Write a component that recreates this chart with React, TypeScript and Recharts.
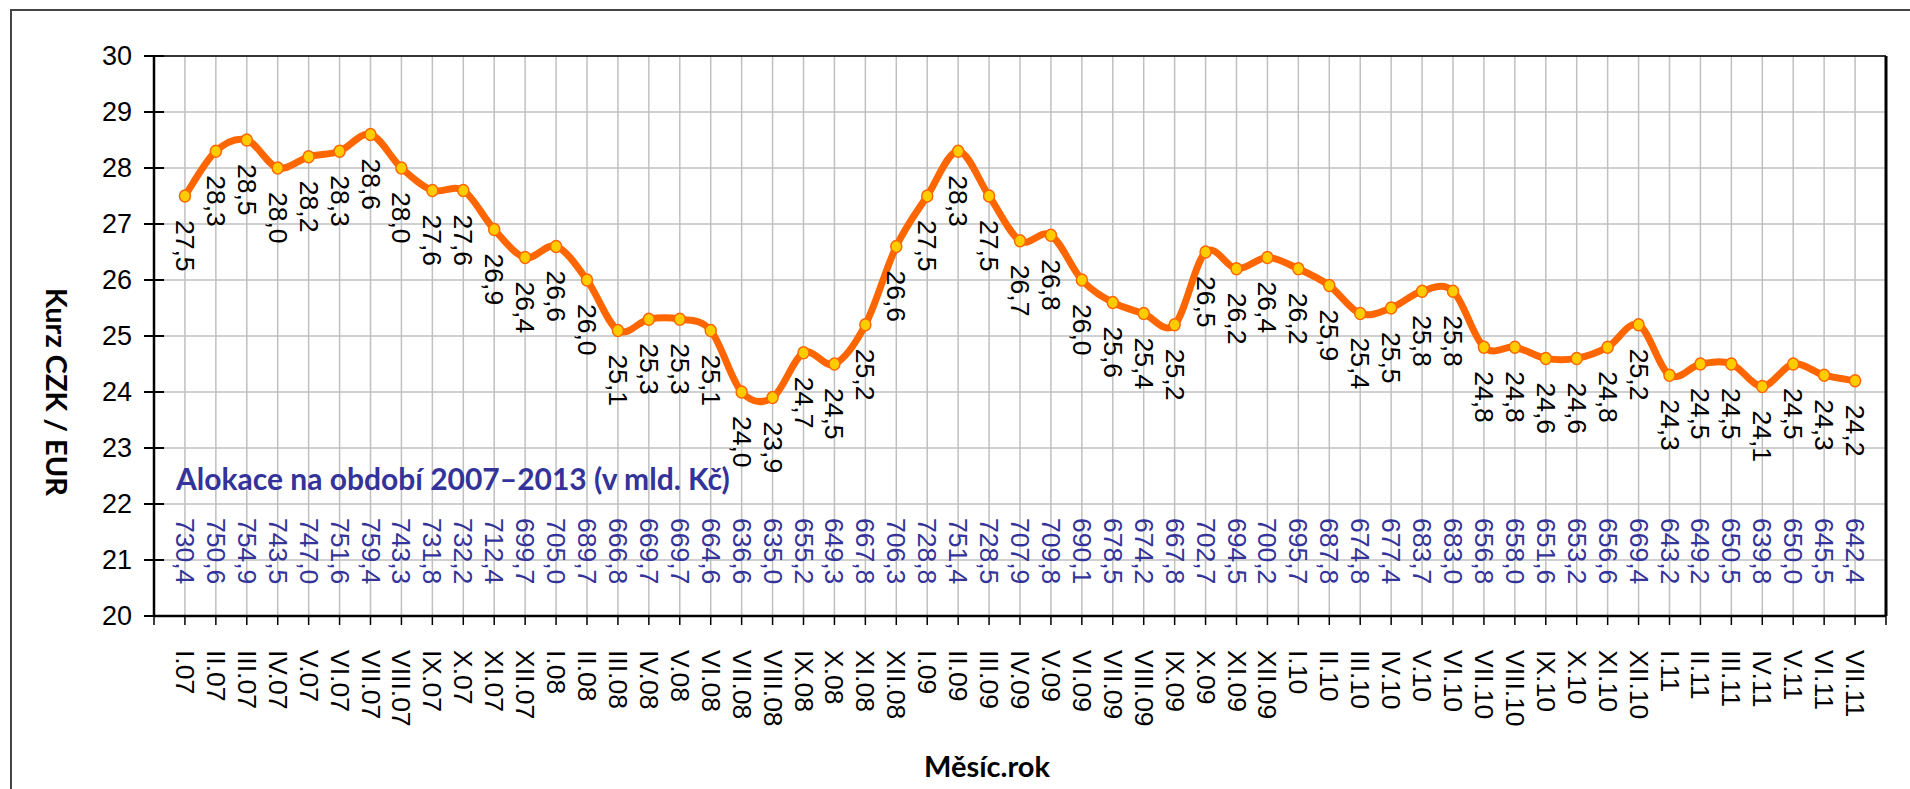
import React from 'react';
import { LineChart, Line, XAxis, YAxis, CartesianGrid, LabelList, ReferenceLine } from 'recharts';

const months = [
  'I.07', 'II.07', 'III.07', 'IV.07', 'V.07', 'VI.07', 'VII.07', 'VIII.07', 'IX.07', 'X.07', 'XI.07', 'XII.07',
  'I.08', 'II.08', 'III.08', 'IV.08', 'V.08', 'VI.08', 'VII.08', 'VIII.08', 'IX.08', 'X.08', 'XI.08', 'XII.08',
  'I.09', 'II.09', 'III.09', 'IV.09', 'V.09', 'VI.09', 'VII.09', 'VIII.09', 'IX.09', 'X.09', 'XI.09', 'XII.09',
  'I.10', 'II.10', 'III.10', 'IV.10', 'V.10', 'VI.10', 'VII.10', 'VIII.10', 'IX.10', 'X.10', 'XI.10', 'XII.10',
  'I.11', 'II.11', 'III.11', 'IV.11', 'V.11', 'VI.11', 'VII.11',
];

const rates = [
  27.5, 28.3, 28.5, 28.0, 28.2, 28.3, 28.6, 28.0, 27.6, 27.6, 26.9, 26.4,
  26.6, 26.0, 25.1, 25.3, 25.3, 25.1, 24.0, 23.9, 24.7, 24.5, 25.2, 26.6,
  27.5, 28.3, 27.5, 26.7, 26.8, 26.0, 25.6, 25.4, 25.2, 26.5, 26.2, 26.4,
  26.2, 25.9, 25.4, 25.5, 25.8, 25.8, 24.8, 24.8, 24.6, 24.6, 24.8, 25.2,
  24.3, 24.5, 24.5, 24.1, 24.5, 24.3, 24.2,
];

const allocations = [
  730.4, 750.6, 754.9, 743.5, 747.0, 751.6, 759.4, 743.3, 731.8, 732.2, 712.4, 699.7,
  705.0, 689.7, 666.8, 669.7, 669.7, 664.6, 636.6, 635.0, 655.2, 649.3, 667.8, 706.3,
  728.8, 751.4, 728.5, 707.9, 709.8, 690.1, 678.5, 674.2, 667.8, 702.7, 694.5, 700.2,
  695.7, 687.8, 674.8, 677.4, 683.7, 683.0, 656.8, 658.0, 651.6, 653.2, 656.6, 669.4,
  643.2, 649.2, 650.5, 639.8, 650.0, 645.5, 642.4,
];

const yTicks = [20, 21, 22, 23, 24, 25, 26, 27, 28, 29, 30];

const data = months.map((m, i) => ({ idx: i + 1, month: m, rate: rates[i], alloc: allocations[i] }));
const xTicks = Array.from({ length: months.length + 2 }, (_, i) => i);

const fmt = (v: number, d: number) => v.toFixed(d).replace('.', ',');

const LABEL_FONT = '"Liberation Sans", Arial, sans-serif';
const TITLE_FONT = 'Lato, "Open Sans", sans-serif';
const BLUE = '#333399';

function excelSmooth(context: any) {
  let pts: number[][] = [];
  return {
    areaStart() {},
    areaEnd() {},
    lineStart() { pts = []; },
    point(x: number, y: number) { pts.push([+x, +y]); },
    lineEnd() {
      const n = pts.length;
      if (!n) return;
      context.moveTo(pts[0][0], pts[0][1]);
      for (let i = 0; i < n - 1; i++) {
        const p0 = pts[i - 1] || pts[i];
        const p1 = pts[i];
        const p2 = pts[i + 1];
        const p3 = pts[i + 2] || pts[i + 1];
        context.bezierCurveTo(
          p1[0] + (p2[0] - p0[0]) / 6, p1[1] + (p2[1] - p0[1]) / 6,
          p2[0] - (p3[0] - p1[0]) / 6, p2[1] - (p3[1] - p1[1]) / 6,
          p2[0], p2[1]
        );
      }
    },
  };
}

const XTick = (props: any) => {
  const { x, y, payload } = props;
  const i = payload.value - 1;
  const has = i >= 0 && i < months.length;
  return (
    <g>
      <line x1={x} x2={x} y1={y} y2={y + 9} stroke="#000" strokeWidth={1.5} />
      {has && (
        <text transform={`translate(${x},${y + 34}) rotate(90)`} textAnchor="start" dominantBaseline="central"
          fontFamily={LABEL_FONT} fontSize={26.5} fill="#000">{months[i]}</text>
      )}
      {has && (
        <text transform={`translate(${x},${y - 98}) rotate(90)`} textAnchor="start" dominantBaseline="central"
          fontFamily={LABEL_FONT} fontSize={26.5} fill={BLUE}>{fmt(allocations[i], 1)}</text>
      )}
    </g>
  );
};

const YTick = (props: any) => {
  const { x, y, payload } = props;
  return (
    <g>
      <line x1={x - 10} x2={x + 10} y1={y} y2={y} stroke="#000" strokeWidth={2} />
      <text x={x - 22} y={y} textAnchor="end" dominantBaseline="central" fontFamily={LABEL_FONT} fontSize={27} fill="#000">
        {payload.value}
      </text>
    </g>
  );
};

const RateLabel = (props: any) => {
  const { x, y, value } = props;
  return (
    <text transform={`translate(${x},${y + 24}) rotate(90)`} textAnchor="start" dominantBaseline="central"
      fontFamily={LABEL_FONT} fontSize={26.5} fill="#000">{fmt(value, 1)}</text>
  );
};

const Dot = (props: any) => {
  const { cx, cy, index } = props;
  return <ellipse key={`d${index}`} cx={cx} cy={cy} rx={5.5} ry={6} fill="#FFCC00" stroke="#FF6600" strokeWidth={1.5} />;
};

export default function App() {
  return (
    <div style={{ position: 'fixed', left: 0, top: 0, width: 1910, height: 789, background: '#fff', overflow: 'hidden' }}>
      <div style={{ position: 'absolute', left: 10, top: 9, width: 1960, height: 820, border: '2px solid #444', boxSizing: 'border-box' }} />
      <div style={{ position: 'absolute', left: 0, top: 0 }}>
        <LineChart width={1910} height={789} data={data} margin={{ top: 56, right: 24, left: 0, bottom: 0 }}>
          <CartesianGrid stroke="#c0c0c0" strokeWidth={1.5} />
          <XAxis type="number" dataKey="idx" domain={[0, months.length + 1]} ticks={xTicks} interval={0}
            height={173} tickSize={0} tickMargin={0} tickLine={false} tick={<XTick />}
            axisLine={{ stroke: '#000', strokeWidth: 2.5 }} allowDecimals={false} />
          <YAxis type="number" domain={[20, 30]} ticks={yTicks} interval={0} width={154} tickSize={0} tickMargin={0}
            tickLine={false} tick={<YTick />} axisLine={{ stroke: '#000', strokeWidth: 2.5 }} />
          <ReferenceLine y={30} stroke="#000" strokeWidth={1.5} />
          <ReferenceLine x={months.length + 1} stroke="#000" strokeWidth={3} />
          <Line type={excelSmooth as any} dataKey="rate" stroke="#FF6600" strokeWidth={7} dot={<Dot />}
            activeDot={false} isAnimationActive={false}>
            <LabelList dataKey="rate" content={<RateLabel />} />
          </Line>
        </LineChart>
      </div>
      <svg width={1910} height={789} style={{ position: 'absolute', left: 0, top: 0, pointerEvents: 'none' }}>
        <text x={176} y={490} fontFamily={TITLE_FONT} fontWeight="bold" fontSize={30} fill={BLUE}>
          Alokace na období 2007–2013 (v mld. Kč)
        </text>
        <text transform="translate(57,392) rotate(90)" textAnchor="middle" dominantBaseline="central"
          fontFamily={TITLE_FONT} fontWeight="bold" fontSize={29} fill="#000">Kurz CZK / EUR</text>
        <text x={987} y={765} textAnchor="middle" dominantBaseline="central"
          fontFamily={TITLE_FONT} fontWeight="bold" fontSize={29} fill="#000">Měsíc.rok</text>
      </svg>
    </div>
  );
}
